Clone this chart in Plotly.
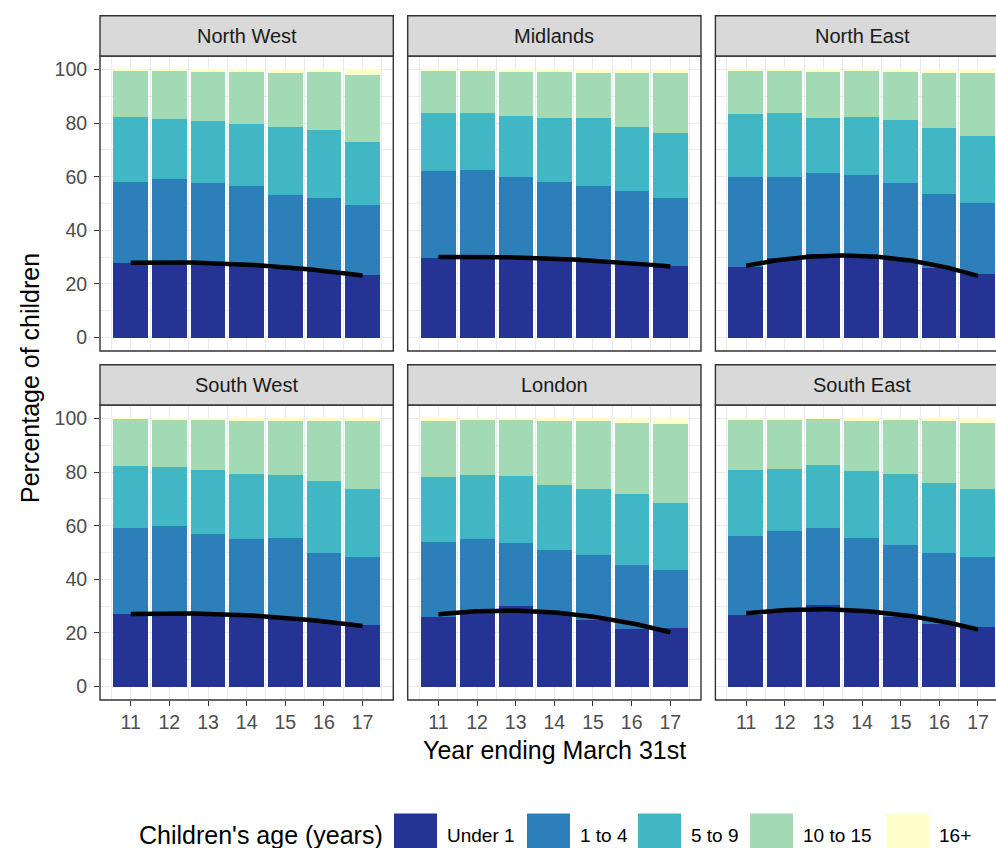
import numpy as np
import plotly.graph_objects as go

# ---- data -------------------------------------------------------------
YEARS = [11, 12, 13, 14, 15, 16, 17]
REGIONS = ["North West", "Midlands", "North East", "South West", "London", "South East"]
AGE_GROUPS = ["Under 1", "1 to 4", "5 to 9", "10 to 15", "16+"]
COLOURS = ["#253494", "#2c7fb8", "#41b6c4", "#a1dab4", "#ffffcc"]

# share of children (%) in each age group; one row per region (REGIONS order)
UNDER_1 = [
    [27.7, 28.3, 28.0, 27.5, 25.5, 25.0, 23.3],
    [29.8, 30.5, 30.0, 29.5, 28.5, 27.5, 26.7],
    [26.4, 29.5, 31.0, 30.5, 29.0, 26.0, 23.6],
    [27.0, 27.5, 27.0, 27.0, 25.5, 24.0, 22.8],
    [26.0, 28.5, 30.0, 28.0, 25.0, 21.5, 21.9],
    [26.6, 29.0, 30.3, 28.0, 26.0, 23.5, 22.3],
]
AGE_1_4 = [
    [30.3, 30.9, 29.7, 28.9, 27.5, 27.2, 26.0],
    [32.4, 32.0, 30.0, 28.4, 28.1, 27.0, 25.4],
    [33.6, 30.5, 30.5, 30.0, 28.5, 27.7, 26.6],
    [32.1, 32.5, 29.8, 28.1, 29.9, 26.0, 25.5],
    [28.1, 26.4, 23.6, 23.0, 23.9, 24.0, 21.4],
    [29.4, 29.1, 28.7, 27.5, 26.9, 26.3, 26.0],
]
AGE_5_9 = [
    [24.3, 22.3, 23.1, 23.4, 25.7, 25.2, 23.5],
    [21.6, 21.3, 22.8, 24.1, 25.2, 24.2, 24.1],
    [23.2, 23.9, 20.5, 21.8, 23.5, 24.4, 25.0],
    [23.2, 21.8, 23.8, 24.3, 23.6, 26.8, 25.3],
    [24.0, 24.1, 24.8, 24.3, 24.9, 26.4, 25.0],
    [24.8, 23.2, 23.6, 24.8, 26.2, 26.2, 25.5],
]
AGE_10_15 = [
    [17.2, 18.0, 18.5, 19.2, 20.1, 21.6, 25.1],
    [15.7, 15.7, 16.5, 17.3, 17.0, 20.1, 22.3],
    [16.3, 15.6, 17.3, 17.2, 18.0, 20.4, 23.3],
    [17.5, 17.7, 18.9, 19.9, 20.3, 22.5, 25.4],
    [21.2, 20.5, 21.1, 24.0, 25.2, 26.4, 29.7],
    [18.7, 18.2, 17.2, 19.0, 20.4, 23.0, 24.5],
]
AGE_16_PLUS = [
    [0.5, 0.5, 0.7, 1.0, 1.2, 1.0, 2.1],
    [0.5, 0.5, 0.7, 0.7, 1.2, 1.2, 1.5],
    [0.5, 0.5, 0.7, 0.5, 1.0, 1.5, 1.5],
    [0.2, 0.5, 0.5, 0.7, 0.7, 0.7, 1.0],
    [0.7, 0.5, 0.5, 0.7, 1.0, 1.7, 2.0],
    [0.5, 0.5, 0.2, 0.7, 0.5, 1.0, 1.7],
]
SERIES = [UNDER_1, AGE_1_4, AGE_5_9, AGE_10_15, AGE_16_PLUS]

Y_TICKS = [0, 20, 40, 60, 80, 100]
Y_MINOR = [10, 30, 50, 70, 90]
X_MINOR = [10.5, 11.5, 12.5, 13.5, 14.5, 15.5, 16.5, 17.5]

# ---- geometry (pixels) -------------------------------------------------
W, H = 996, 848
FONT = "Liberation Sans, Arial, Helvetica, sans-serif"
PANEL_W = 293.3
COL_LEFT = [100.0, 407.7, 715.4]
ROW_TOP = [56.0, 405.0]
PANEL_H = 295.0
STRIP_H = 40.3
X_LO, X_HI = 10.205, 17.795
Y_RANGE = [-5, 105]
PX_PER_UNIT = PANEL_W / (X_HI - X_LO)

GRID = "#EBEBEB"
DARK = "#333333"
TITLE_SIZE = 25
SMALL_SIZE = 19.5


def px(x):
    return x / W


def py(y):
    return 1 - y / H


fig = go.Figure()
layout = dict(
    width=W,
    height=H,
    margin=dict(l=0, r=0, t=0, b=0),
    paper_bgcolor="white",
    plot_bgcolor="white",
    barmode="stack",
    bargap=0,
    showlegend=False,
    font=dict(family=FONT, color="#4D4D4D"),
)
shapes = []
annotations = []

for i, region in enumerate(REGIONS):
    row, col = divmod(i, 3)
    suffix = "" if i == 0 else str(i + 1)
    xname, yname = "x" + suffix, "y" + suffix

    left = COL_LEFT[col]
    right = min(left + PANEL_W, W)
    x_hi = X_LO + (right - left) / PX_PER_UNIT
    top = ROW_TOP[row]
    bottom = top + PANEL_H

    is_bottom = row == 1
    is_left = col == 0

    layout["xaxis" + suffix] = dict(
        domain=[px(left), px(right)],
        anchor=yname,
        range=[X_LO, x_hi],
        tickmode="array",
        tickvals=YEARS,
        ticktext=[str(v) for v in YEARS],
        showticklabels=is_bottom,
        ticks="outside" if is_bottom else "",
        ticklen=5,
        tickwidth=1.3,
        tickcolor=DARK,
        tickfont=dict(size=SMALL_SIZE, color="#4D4D4D", family=FONT),
        showgrid=True,
        gridcolor=GRID,
        gridwidth=1.4,
        minor=dict(tickmode="array", tickvals=X_MINOR, showgrid=True,
                   gridcolor=GRID, gridwidth=0.7, ticks=""),
        zeroline=False,
        showline=False,
        fixedrange=True,
    )
    layout["yaxis" + suffix] = dict(
        domain=[py(bottom), py(top)],
        anchor=xname,
        range=Y_RANGE,
        tickmode="array",
        tickvals=Y_TICKS,
        showticklabels=is_left,
        ticks="outside" if is_left else "",
        ticklen=5,
        tickwidth=1.3,
        tickcolor=DARK,
        ticklabelstandoff=3,
        tickfont=dict(size=SMALL_SIZE, color="#4D4D4D", family=FONT),
        showgrid=True,
        gridcolor=GRID,
        gridwidth=1.4,
        minor=dict(tickmode="array", tickvals=Y_MINOR, showgrid=True,
                   gridcolor=GRID, gridwidth=0.7, ticks=""),
        zeroline=False,
        showline=False,
        fixedrange=True,
    )

    # stacked bars, one trace per age group
    for name, colour, series in zip(AGE_GROUPS, COLOURS, SERIES):
        fig.add_trace(go.Bar(
            x=YEARS, y=series[i], width=0.9, name=name,
            marker=dict(color=colour, line=dict(width=0)),
            xaxis=xname, yaxis=yname, showlegend=False,
        ))

    # quadratic trend of the under-1 share
    coef = np.polyfit(YEARS, UNDER_1[i], 2)
    xs = np.linspace(YEARS[0], YEARS[-1], 100)
    fig.add_trace(go.Scatter(
        x=xs, y=np.polyval(coef, xs), mode="lines",
        line=dict(color="black", width=4.5),
        xaxis=xname, yaxis=yname, showlegend=False, hoverinfo="skip",
    ))

    # panel border and facet strip
    full_right = left + PANEL_W
    shapes.append(dict(type="rect", xref="paper", yref="paper",
                       x0=px(left), x1=px(full_right), y0=py(bottom), y1=py(top),
                       line=dict(color=DARK, width=1.4), fillcolor="rgba(0,0,0,0)",
                       layer="above"))
    strip_top = top - STRIP_H
    shapes.append(dict(type="rect", xref="paper", yref="paper",
                       x0=px(left), x1=px(full_right), y0=py(top), y1=py(strip_top),
                       line=dict(color=DARK, width=1.4), fillcolor="#D9D9D9",
                       layer="above"))
    annotations.append(dict(text=region, xref="paper", yref="paper",
                            x=px(left + PANEL_W / 2), y=py(strip_top + STRIP_H / 2),
                            xanchor="center", yanchor="middle", showarrow=False,
                            font=dict(size=20, color="#1A1A1A", family=FONT)))

# axis titles
annotations.append(dict(text="Year ending March 31st", xref="paper", yref="paper",
                        x=px(554), y=py(750), xanchor="center", yanchor="middle",
                        showarrow=False, font=dict(size=TITLE_SIZE, color="black", family=FONT)))
annotations.append(dict(text="Percentage of children", xref="paper", yref="paper",
                        x=px(30), y=py(378), xanchor="center", yanchor="middle",
                        textangle=-90, showarrow=False,
                        font=dict(size=TITLE_SIZE, color="black", family=FONT)))

# legend along the bottom
LEG_Y = 835
KEY = 43
annotations.append(dict(text="Children's age (years)", xref="paper", yref="paper",
                        x=px(137), y=py(LEG_Y), xanchor="left", yanchor="middle",
                        showarrow=False, font=dict(size=TITLE_SIZE, color="black", family=FONT)))
KEY_LEFT = [394, 527, 638, 750, 886]
for name, colour, kx in zip(AGE_GROUPS, COLOURS, KEY_LEFT):
    shapes.append(dict(type="rect", xref="paper", yref="paper",
                       x0=px(kx), x1=px(kx + KEY), y0=py(LEG_Y + KEY / 2), y1=py(LEG_Y - KEY / 2),
                       line=dict(width=0), fillcolor=colour))
    annotations.append(dict(text=name, xref="paper", yref="paper",
                            x=px(kx + KEY + 8), y=py(LEG_Y), xanchor="left", yanchor="middle",
                            showarrow=False, font=dict(size=19, color="black", family=FONT)))

layout["shapes"] = shapes
layout["annotations"] = annotations
fig.update_layout(**layout)
fig.write_html("out.html", config={"displayModeBar": False})
